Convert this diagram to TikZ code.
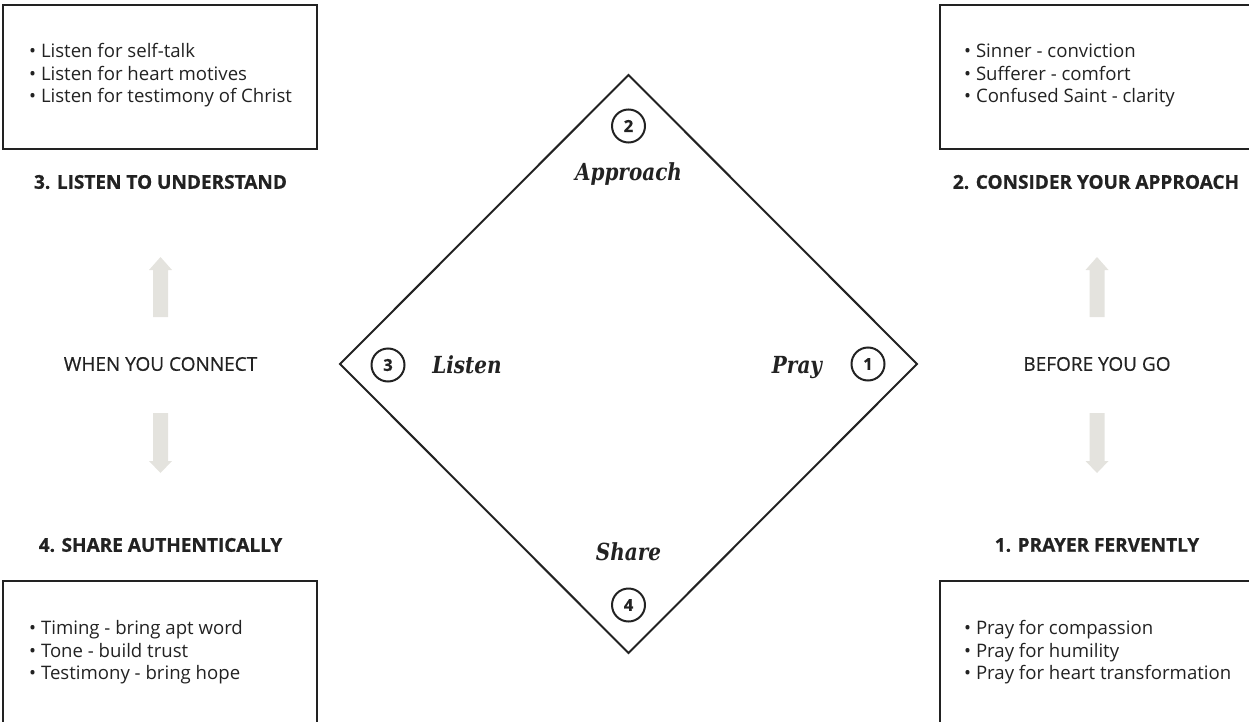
\documentclass[tikz,border=0pt]{standalone}
\usepackage{fontspec}
\setmainfont{Open Sans}
\newfontfamily\headfont[BoldFeatures={FakeBold=0.8}]{Open Sans}
\newfontfamily\phasefont[FakeBold=0.5]{Open Sans}
\newfontfamily\stepfont[FakeStretch=0.85]{DejaVu Serif}
\usetikzlibrary{positioning}
\definecolor{ink}{HTML}{222222}
\definecolor{arrowgray}{HTML}{E4E3DE}
\tikzset{
  listbox/.style={draw=ink, line width=2.5pt},
  listtext/.style={anchor=west, align=left, text=ink, inner sep=0pt,
    font=\fontsize{18.6}{22.5}\selectfont},
  heading/.style={text=ink, font=\headfont\bfseries\fontsize{19}{22}\selectfont},
  phase/.style={text=ink, font=\phasefont\fontsize{19}{22}\selectfont},
  stepnum/.style={circle, draw=ink, line width=2pt, minimum size=33pt,
    inner sep=0pt, text=ink, font=\headfont\bfseries\fontsize{16.5}{18}\selectfont},
  steplabel/.style={anchor=base, text=ink,
    font=\stepfont\bfseries\itshape\fontsize{23.5}{28}\selectfont},
}

\begin{document}
\begin{tikzpicture}[x=1pt, y=-1pt]
\useasboundingbox (0,0) rectangle (1249,722);

%% Corner boxes
\draw[listbox] (3,5) rectangle (317,149);
\draw[listbox] (940,5) rectangle (1256,149);
\draw[listbox] (3,581) rectangle (317,730);
\draw[listbox] (940,581) rectangle (1256,730);

\node[listtext] (listenlist) at (29,75.5)
  {• Listen for self-talk\\• Listen for heart motives\\• Listen for testimony of Christ};
\node[listtext] (approachlist) at (964,75.5)
  {• Sinner - conviction\\• Sufferer - comfort\\• Confused Saint - clarity};
\node[listtext] (sharelist) at (29,652.5)
  {• Timing - bring apt word\\• Tone - build trust\\• Testimony - bring hope};
\node[listtext] (praylist) at (964,652.5)
  {• Pray for compassion\\• Pray for humility\\• Pray for heart transformation};

%% Headings
\node[heading] (listenhead) at (160.5,182) {3. LISTEN TO UNDERSTAND};
\node[heading] (approachhead) at (1096,182) {2. CONSIDER YOUR APPROACH};
\node[heading] (sharehead) at (160.5,545) {4. SHARE AUTHENTICALLY};
\node[heading] (prayhead) at (1097,545) {1. PRAYER FERVENTLY};

%% Phases with up / down block arrows
\node[phase] (connect) at (160.5,364) {WHEN YOU CONNECT};
\node[phase] (beforego) at (1097,364) {BEFORE YOU GO};
\foreach \x in {160.5,1097}{
  \fill[arrowgray] (\x-7.5,317) -- (\x-7.5,270) -- (\x-11.5,270) -- (\x,257)
    -- (\x+11.5,270) -- (\x+7.5,270) -- (\x+7.5,317) -- cycle;
  \fill[arrowgray] (\x-7.5,413) -- (\x-7.5,461) -- (\x-11.5,461) -- (\x,473)
    -- (\x+11.5,461) -- (\x+7.5,461) -- (\x+7.5,413) -- cycle;
}

%% Diamond
\coordinate (top) at (628.5,75);
\coordinate (right) at (917,364);
\coordinate (bottom) at (628.5,653);
\coordinate (left) at (340,364);
\draw[ink, line width=2pt, line join=miter] (top) -- (right) -- (bottom) -- (left) -- cycle;

%% Steps
\node[stepnum] (one) at (868,364) {1};
\node[stepnum] (two) at (628.5,126) {2};
\node[stepnum] (three) at (388,365) {3};
\node[stepnum] (four) at (628.5,605) {4};
\node[steplabel] (pray) at (797,373) {Pray};
\node[steplabel] (approach) at (628.5,181) {Approach};
\node[steplabel] (listen) at (467,373) {Listen};
\node[steplabel] (share) at (628.5,560) {Share};

\end{tikzpicture}
\end{document}
